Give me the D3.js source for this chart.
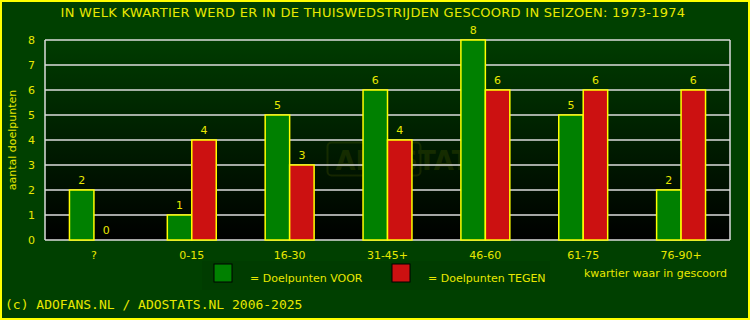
<!DOCTYPE html>
<html>
<head>
<meta charset="utf-8">
<script src="https://cdn.jsdelivr.net/npm/d3@7"></script>
<style>
  body { margin: 0; background: #004000; }
  svg { display: block; }
</style>
</head>
<body>
<div id="chart"></div>
<script>
// Data
const categories = ['?', '0-15', '16-30', '31-45+', '46-60', '61-75', '76-90+'];
const voor = [2, 1, 5, 6, 8, 5, 2];
const tegen = [0, 4, 3, 4, 6, 6, 6];
const yTicks = [0, 1, 2, 3, 4, 5, 6, 7, 8];

const width = 750, height = 320;
const margin = { top: 40, right: 20, bottom: 80, left: 45 };
const chartWidth = width - margin.left - margin.right;
const chartHeight = height - margin.top - margin.bottom;

const svg = d3.select('#chart').append('svg')
    .attr('width', width)
    .attr('height', height)
    .style('font-family', '"DejaVu Sans", sans-serif');

// background + yellow frame
svg.append('rect')
    .attr('x', 1).attr('y', 1)
    .attr('width', width - 2).attr('height', height - 2)
    .attr('fill', '#004000')
    .attr('stroke', '#ffff00')
    .attr('stroke-width', 2);

const defs = svg.append('defs');
const grad = defs.append('linearGradient')
    .attr('id', 'plotbg')
    .attr('x1', 0).attr('y1', 0).attr('x2', 0).attr('y2', 1);
grad.append('stop').attr('offset', '0%').attr('stop-color', '#003c00');
grad.append('stop').attr('offset', '100%').attr('stop-color', '#000000');

svg.append('text')
    .attr('x', 373)
    .attr('y', 17)
    .attr('text-anchor', 'middle')
    .attr('fill', '#e8e800')
    .style('font-size', '13px')
    .style('letter-spacing', '0.27px')
    .text('IN WELK KWARTIER WERD ER IN DE THUISWEDSTRIJDEN GESCOORD IN SEIZOEN: 1973-1974');

const g = svg.append('g')
    .attr('transform', `translate(${margin.left},${margin.top})`);

const x = d3.scaleBand()
    .domain(categories)
    .range([0, chartWidth]);

const y = d3.scaleLinear()
    .domain([0, 8])
    .range([chartHeight, 0]);

g.append('rect')
    .attr('width', chartWidth)
    .attr('height', chartHeight)
    .attr('fill', 'url(#plotbg)');

// watermark
const wm = g.append('g')
    .attr('transform', `translate(${chartWidth / 2 - 60},${y(3.9)})`)
    .attr('opacity', 0.1);
wm.append('rect')
    .attr('width', 93).attr('height', 33)
    .attr('rx', 4)
    .attr('fill', 'none')
    .attr('stroke', '#cccc00')
    .attr('stroke-width', 2);
wm.append('text')
    .attr('x', 8).attr('y', 27)
    .attr('fill', '#cccc00')
    .style('font-size', '26px')
    .style('font-weight', 'bold')
    .text('ADOSTATS');

// gridlines
g.selectAll('.grid')
    .data(yTicks)
    .enter().append('line')
    .attr('x1', 0).attr('x2', chartWidth)
    .attr('y1', d => y(d)).attr('y2', d => y(d))
    .attr('stroke', '#dddddd')
    .attr('stroke-width', 1.5);

g.append('line')
    .attr('x1', 0).attr('x2', 0)
    .attr('y1', 0).attr('y2', chartHeight)
    .attr('stroke', '#dddddd').attr('stroke-width', 1.5);
g.append('line')
    .attr('x1', chartWidth).attr('x2', chartWidth)
    .attr('y1', 0).attr('y2', chartHeight)
    .attr('stroke', '#dddddd').attr('stroke-width', 1.5);

// y tick labels
g.selectAll('.ytick')
    .data(yTicks)
    .enter().append('text')
    .attr('x', -10)
    .attr('y', d => y(d) + 4)
    .attr('text-anchor', 'end')
    .attr('fill', '#e8e800')
    .style('font-size', '11px')
    .text(d => d);

// x tick labels
g.selectAll('.xtick')
    .data(categories)
    .enter().append('text')
    .attr('x', d => x(d) + x.bandwidth() / 2)
    .attr('y', chartHeight + 19)
    .attr('text-anchor', 'middle')
    .attr('fill', '#e8e800')
    .style('font-size', '11px')
    .text(d => d);

const bw = x.bandwidth() / 4;
const series = [
    { values: voor, color: '#008000', offset: -1 },
    { values: tegen, color: '#cc1111', offset: 0 }
];

series.forEach(s => {
    const data = categories.map((c, i) => ({ c, v: s.values[i] }));
    g.selectAll(null)
        .data(data.filter(d => d.v > 0))
        .enter().append('rect')
        .attr('x', d => x(d.c) + x.bandwidth() / 2 + s.offset * bw)
        .attr('y', d => y(d.v))
        .attr('width', bw)
        .attr('height', d => chartHeight - y(d.v))
        .attr('fill', s.color)
        .attr('stroke', '#ffff00')
        .attr('stroke-width', 1.5);

    g.selectAll(null)
        .data(data)
        .enter().append('text')
        .attr('x', d => x(d.c) + x.bandwidth() / 2 + (s.offset + 0.5) * bw)
        .attr('y', d => y(d.v) - 6)
        .attr('text-anchor', 'middle')
        .attr('fill', '#e8e800')
        .style('font-size', '11px')
        .text(d => d.v);
});

// axis titles
svg.append('text')
    .attr('transform', 'translate(16,140) rotate(-90)')
    .attr('text-anchor', 'middle')
    .attr('fill', '#e8e800')
    .style('font-size', '11px')
    .text('aantal doelpunten');

svg.append('text')
    .attr('x', 727)
    .attr('y', 277)
    .attr('text-anchor', 'end')
    .attr('fill', '#e8e800')
    .style('font-size', '11px')
    .text('kwartier waar in gescoord');

// legend
const legend = svg.append('g');
legend.append('rect')
    .attr('x', 202).attr('y', 261)
    .attr('width', 348).attr('height', 29)
    .attr('fill', '#003c00');
const legendItems = [
    { label: '= Doelpunten VOOR', color: '#008000', x: 214 },
    { label: '= Doelpunten TEGEN', color: '#cc1111', x: 392 }
];
legendItems.forEach(d => {
    legend.append('rect')
        .attr('x', d.x).attr('y', 264)
        .attr('width', 18).attr('height', 18)
        .attr('fill', d.color)
        .attr('stroke', '#000')
        .attr('stroke-width', 1);
    legend.append('text')
        .attr('x', d.x + 36)
        .attr('y', 282)
        .attr('fill', '#e8e800')
        .style('font-size', '11px')
        .text(d.label);
});

svg.append('text')
    .attr('x', 5)
    .attr('y', 309)
    .attr('fill', '#e8e800')
    .style('font-family', '"DejaVu Sans Mono", monospace')
    .style('font-size', '13px')
    .text('(c) ADOFANS.NL / ADOSTATS.NL 2006-2025');
</script>
</body>
</html>
